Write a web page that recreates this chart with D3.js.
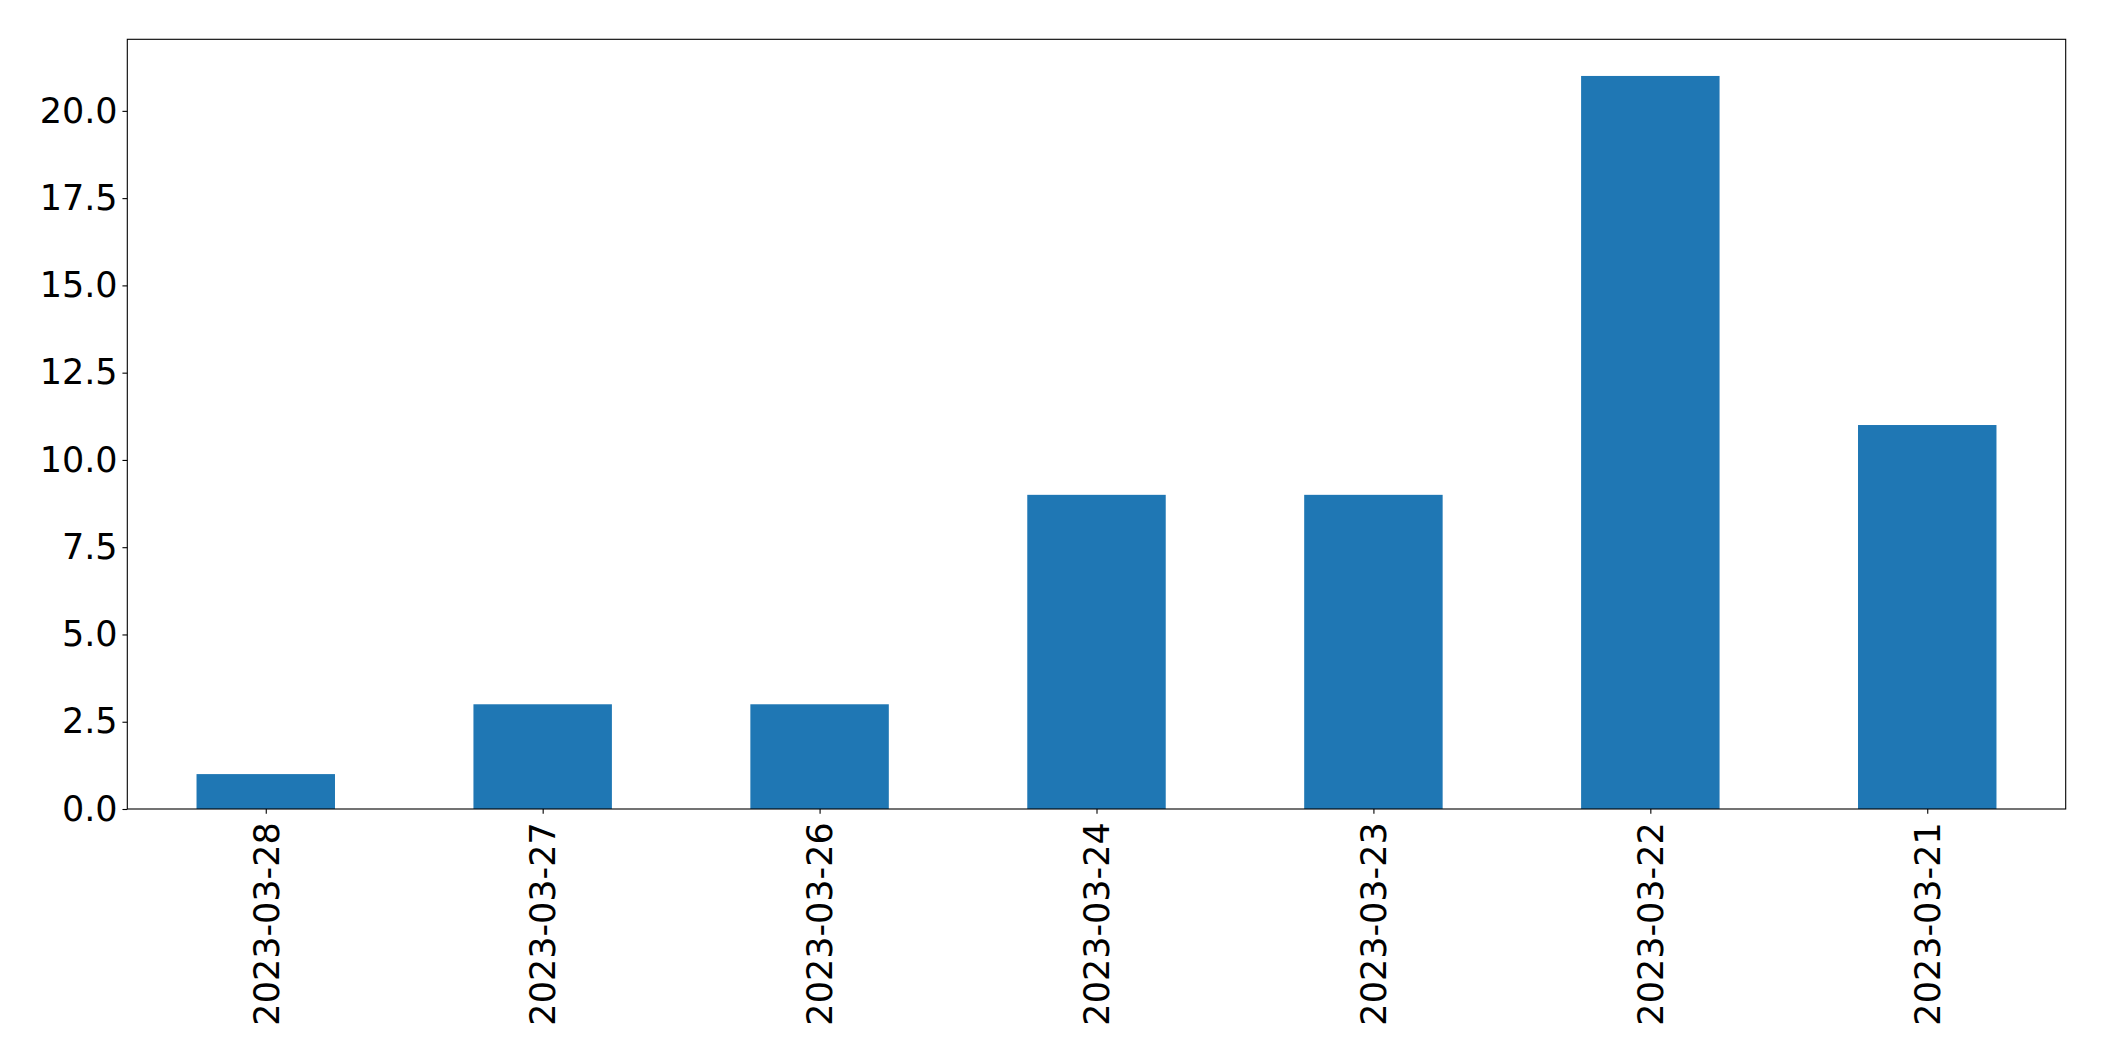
<!DOCTYPE html>
<html>
<head>
<meta charset="utf-8">
<script src="https://cdn.jsdelivr.net/npm/d3@7"></script>
<style>
  html, body { margin: 0; padding: 0; background: #fff; }
  svg { display: block; }
  text { font-family: "DejaVu Sans", sans-serif; fill: #000; }
</style>
</head>
<body>
<script>
const categories = ["2023-03-28", "2023-03-27", "2023-03-26", "2023-03-24", "2023-03-23", "2023-03-22", "2023-03-21"];
const values = [1, 3, 3, 9, 9, 21, 11];
const yTicks = [0, 2.5, 5, 7.5, 10, 12.5, 15, 17.5, 20];

(function () {
const W = 2104, H = 1061;
const mLeft = 127.3, mRight = 2065.7, mTop = 39.3, mBottom = 809;
const fontSize = 35;
const tickLen = 4.86, tickPad = 4.86;
const color = "#1f77b4";

const svg = d3.select("body").append("svg").attr("width", W).attr("height", H);

const x = d3.scaleLinear().domain([-0.5, categories.length - 0.5]).range([mLeft, mRight]);
const y = d3.scaleLinear().domain([0, d3.max(values) * 1.05]).range([mBottom, mTop]);
const barW = 0.5;

svg.append("g").selectAll("rect").data(values).join("rect")
  .attr("x", (d, i) => x(i - barW / 2))
  .attr("width", (d, i) => x(i + barW / 2) - x(i - barW / 2))
  .attr("y", d => y(d))
  .attr("height", d => y(0) - y(d))
  .attr("fill", color);

// Y axis
const yAxis = d3.axisLeft(y).tickValues(yTicks).tickFormat(d3.format(".1f"))
  .tickSize(tickLen).tickPadding(tickPad);
const gy = svg.append("g").attr("transform", `translate(${mLeft},0)`).call(yAxis);
gy.select(".domain").remove();
gy.selectAll(".tick line").attr("stroke", "#000").attr("stroke-width", 1.1);
gy.selectAll(".tick text").style("font-size", fontSize + "px").style("font-family", "DejaVu Sans").attr("fill", "#000");

// X axis
const xAxis = d3.axisBottom(x).tickValues(d3.range(categories.length)).tickFormat(i => categories[i])
  .tickSize(tickLen).tickPadding(tickPad);
const gx = svg.append("g").attr("transform", `translate(0,${mBottom})`).call(xAxis);
gx.select(".domain").remove();
gx.selectAll(".tick line").attr("stroke", "#000").attr("stroke-width", 1.1);
gx.selectAll(".tick text")
  .style("font-size", fontSize + "px").style("font-family", "DejaVu Sans").attr("fill", "#000")
  .attr("text-anchor", "end")
  .attr("transform", `translate(0,${tickLen + tickPad + 3.5}) rotate(-90)`)
  .attr("x", 0).attr("y", 0).attr("dy", "0.35em");

// Frame
svg.append("rect")
  .attr("x", mLeft).attr("y", mTop)
  .attr("width", mRight - mLeft).attr("height", mBottom - mTop)
  .attr("fill", "none").attr("stroke", "#000").attr("stroke-width", 1.1);
})();
</script>
</body>
</html>
